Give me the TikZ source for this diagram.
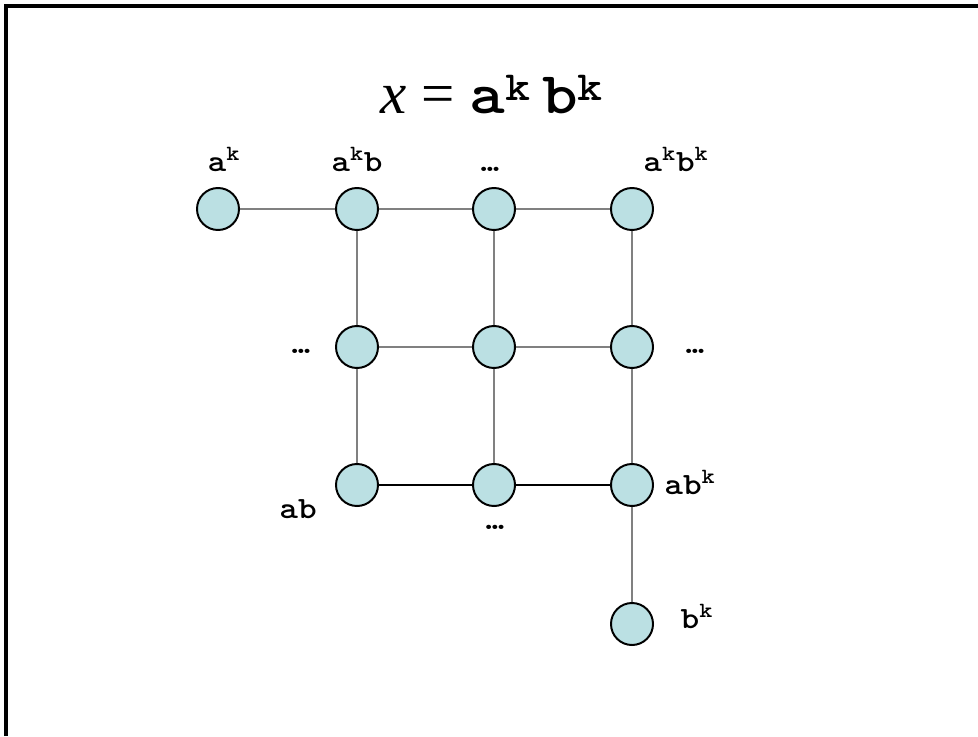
\documentclass[tikz,border=0pt]{standalone}
\usepackage{fontspec}
\setmainfont{Liberation Serif}
\usetikzlibrary{positioning}
\definecolor{nodefill}{RGB}{187,224,227}
\newcommand{\lbl}[1]{\scalebox{1.15}[1]{\ttfamily\bfseries #1}}
\newcommand{\supk}{\textsuperscript{k}}

\begin{document}
\begin{tikzpicture}[x=0.025cm,y=-0.025cm]
    \tikzset{
        vertex/.style={circle, draw=black, line width=1.4pt, fill=nodefill, minimum size=1.05cm, inner sep=0pt},
        lbl/.style={anchor=base, inner sep=0pt, font=\fontsize{22}{24}\selectfont},
        edge/.style={draw=black!50, line width=0.8pt},
        edgeb/.style={draw=black, line width=0.8pt}
    }
    \useasboundingbox (0,0) rectangle (978,736);
    % Slide frame (top and left edges only)
    \draw[line width=2.4pt] (6,736) -- (6,6) -- (978,6);

    % Title
    \node[anchor=base, inner sep=0pt, font=\fontsize{42}{46}\selectfont] (title) at (492,113)
        {\textit{x} = \lbl{a\supk\,b\supk}};

    % Vertices
    \node[vertex] (v11) at (218,209) {};
    \node[vertex] (v12) at (357,209) {};
    \node[vertex] (v13) at (494,209) {};
    \node[vertex] (v14) at (632,209) {};
    \node[vertex] (v22) at (357,347) {};
    \node[vertex] (v23) at (494,347) {};
    \node[vertex] (v24) at (632,347) {};
    \node[vertex] (v32) at (357,485) {};
    \node[vertex] (v33) at (494,485) {};
    \node[vertex] (v34) at (632,485) {};
    \node[vertex] (v44) at (632,624) {};

    % Edges
    \draw[edge] (v11) -- (v12) -- (v13) -- (v14);
    \draw[edge] (v22) -- (v23) -- (v24);
    \draw[edgeb] (v32) -- (v33) -- (v34);
    \draw[edge] (v12) -- (v22) -- (v32);
    \draw[edge] (v13) -- (v23) -- (v33);
    \draw[edge] (v14) -- (v24) -- (v34) -- (v44);

    % Labels
    \node[lbl] (l11) at (224,171) {\lbl{a\supk}};
    \node[lbl] (l12) at (357,171) {\lbl{a\supk b}};
    \node[lbl] (l13) at (490,171) {\lbl{\dots}};
    \node[lbl] (l14) at (676,171) {\lbl{a\supk b\supk}};
    \node[lbl] (l22) at (301,353) {\lbl{\dots}};
    \node[lbl] (l24) at (695,353) {\lbl{\dots}};
    \node[lbl] (l32) at (298,518) {\lbl{ab}};
    \node[lbl] (l33) at (495,529) {\lbl{\dots}};
    \node[lbl] (l34) at (690,494) {\lbl{ab\supk}};
    \node[lbl] (l44) at (697,628) {\lbl{b\supk}};
\end{tikzpicture}
\end{document}
